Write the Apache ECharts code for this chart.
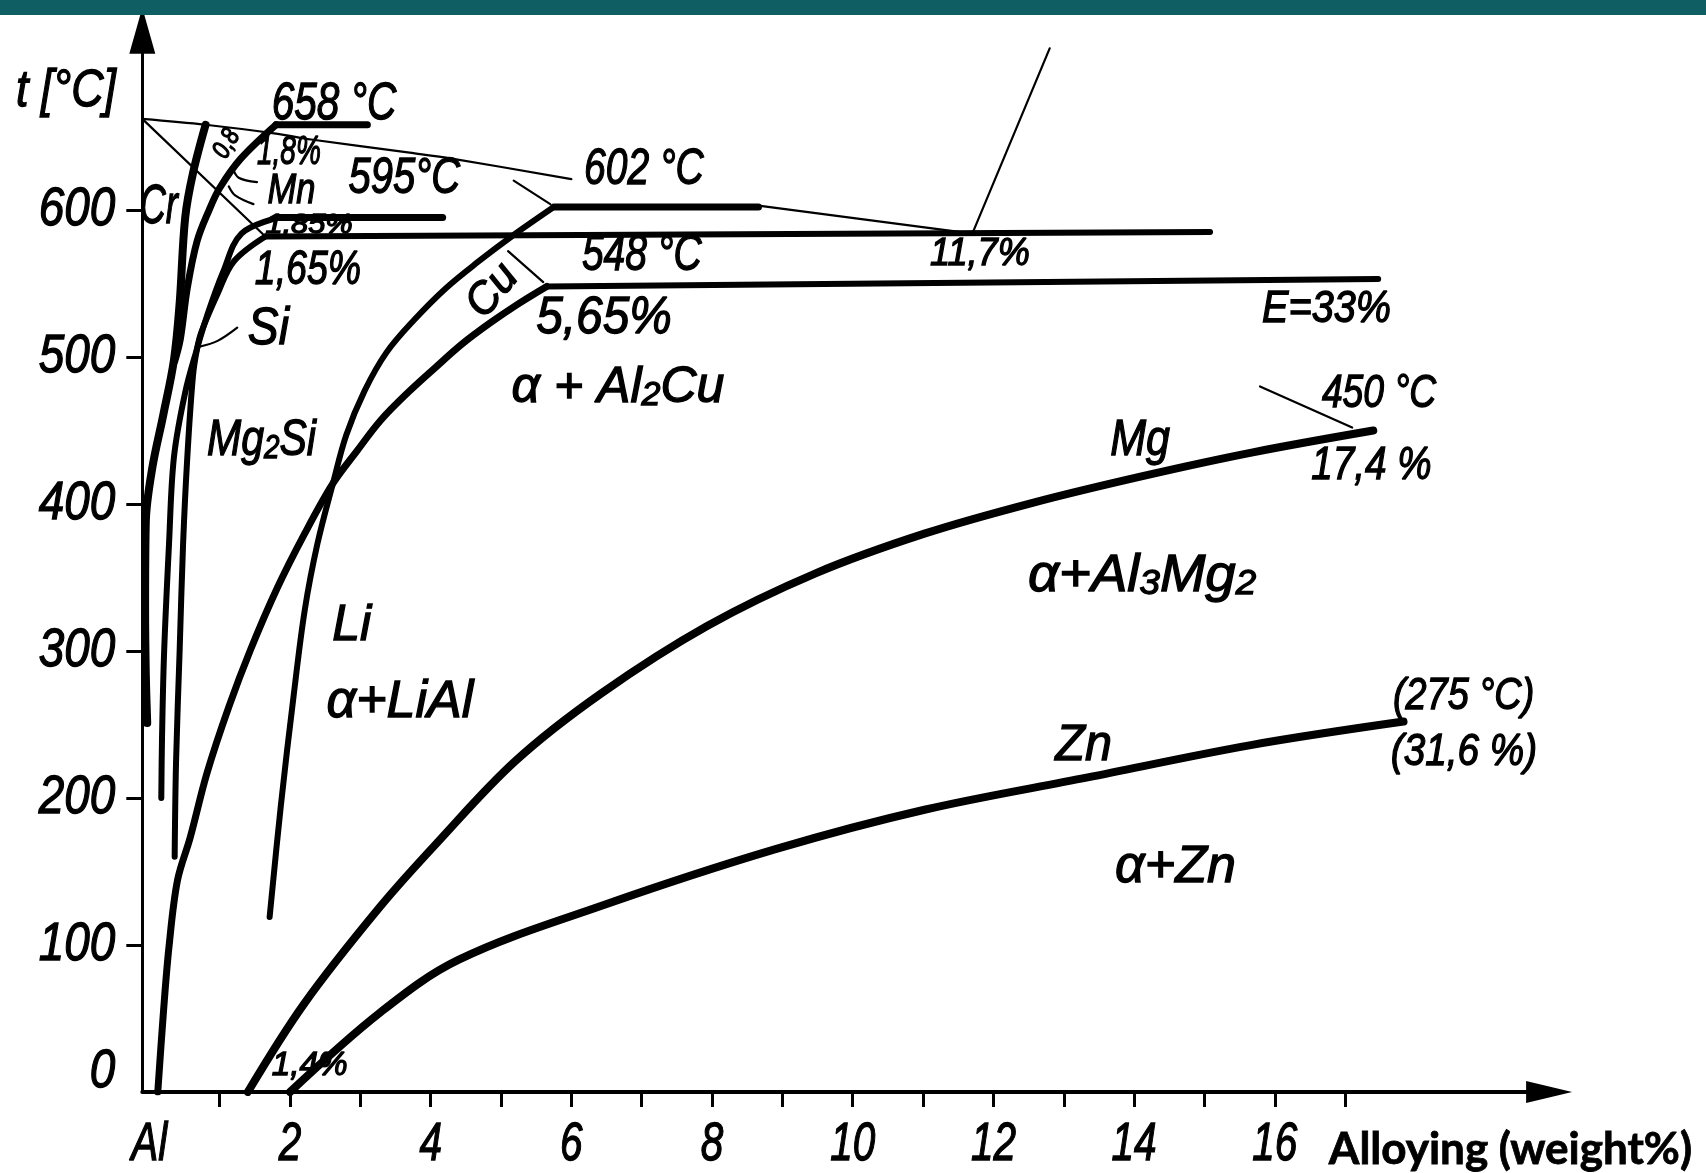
<!DOCTYPE html>
<html>
<head>
<meta charset="utf-8">
<title>Solid solubility of alloying elements in aluminium</title>
<script src="https://cdn.jsdelivr.net/npm/echarts@6/dist/echarts.min.js"></script>
<style>
  html, body { margin: 0; padding: 0; background: #ffffff; }
  #chart { width: 1706px; height: 1173px; }
</style>
</head>
<body>
<div id="chart"></div>
<script>
// ---- axis ticks -----------------------------------------------------------
const tempTickValues = [100, 200, 300, 400, 500, 600];
const tempLabelValues = [0, 100, 200, 300, 400, 500, 600];
const pctTickValues = [1, 2, 3, 4, 5, 6, 7, 8, 9, 10, 11, 12, 13, 14, 15, 16, 17];
const pctLabelValues = [0, 2, 4, 6, 8, 10, 12, 14, 16];
const pctLabelText = ['Al', '2', '4', '6', '8', '10', '12', '14', '16'];

// ---- solvus curves, [wt% alloying element, °C] ----------------------------
const crSolvus = [[0.8, 658], [0.62, 625], [0.51, 595], [0.43, 536], [0.35, 498], [0.2, 461],
  [0.04, 424], [-0.05, 388], [-0.06, 329], [-0.05, 284], [-0.03, 251]];
const mnSolvus = [[1.8, 658], [1.3, 635], [1.0, 615], [0.85, 600], [0.68, 579], [0.54, 547],
  [0.44, 512], [0.36, 497]];
const mg2siSolvus = [[1.85, 595], [1.31, 584], [1.05, 558], [0.82, 528], [0.68, 506], [0.51, 476],
  [0.35, 432], [0.28, 373], [0.21, 299], [0.18, 240], [0.17, 200]];
const siSolvus = [[1.65, 582], [1.2, 565], [0.97, 543], [0.74, 517], [0.68, 506], [0.62, 487],
  [0.54, 432], [0.48, 373], [0.43, 299], [0.38, 225], [0.36, 160]];
const cuSolvus = [[5.65, 548], [5.24, 536], [4.84, 523], [4.45, 509], [4.07, 493], [3.68, 476],
  [3.29, 457], [2.95, 436], [2.61, 414], [2.21, 380], [1.82, 343], [1.44, 301], [1.13, 262],
  [0.82, 217], [0.58, 173], [0.40, 144], [0.28, 99], [0.20, 54], [0.12, 0]];
const liSolvus = [[5.75, 602], [5.15, 582], [4.68, 565], [4.22, 547], [3.76, 525], [3.37, 503],
  [3.06, 477], [2.80, 447], [2.61, 414], [2.39, 373], [2.21, 328], [2.05, 269], [1.87, 195], [1.71, 119]];
const mgSolvus = [[1.4, 0], [2.2, 60], [3.28, 126], [4.1, 170], [5.2, 225], [6.42, 271],
  [7.93, 317], [9.48, 353], [11.03, 380], [12.57, 401], [14.12, 419], [15.67, 435], [17.4, 450]];
const znSolvus = [[2.0, 0], [3.28, 54], [4.4, 90], [6.45, 127], [8.89, 165], [11.02, 192],
  [13.34, 214], [15.66, 236], [17.83, 252]];

// ---- eutectic / peritectic isotherms ----------------------------------------
const mnIsotherm = [[1.8, 658], [3.1, 658]];
const mg2siIsotherm = [[1.85, 595], [4.17, 595]];
const siIsotherm = [[1.65, 582], [15.08, 585]];
const liIsotherm = [[5.75, 602], [8.66, 602]];
const cuIsotherm = [[5.65, 548], [17.47, 553]];

// ---- liquidus / solidus and leader strokes ----------------------------------
const liquidusA = [[-0.1, 662], [0.8, 658], [1.8, 652], [2.3, 648], [3.7, 639], [4.3, 635], [6.0, 621]];
const liquidusB = [[8.66, 603], [11.7, 584]];
const siLiquidus = [[11.7, 584], [12.8, 710]];
const siSolidus = [[-0.1, 662], [1.65, 582]];
const mnSolidus = [[1.19, 628], [1.27, 622], [1.53, 619]];
const mg2siSolidus = [[1.13, 616], [1.22, 610], [1.48, 604]];
const liLiquidus = [[5.18, 620], [5.70, 604]];
const cuLiquidus = [[5.10, 572], [5.60, 551]];
const mgLiquidus = [[15.79, 480], [17.1, 452]];
const siLeader = [[1.25, 520], [0.97, 511], [0.71, 507]];

// ---- lettering inside the diagram (anchored at [wt%, °C]) --------------------
const notes = [
  { text: '658 °C', x: 1.74, t: 672, size: 52, scale: 0.78 },
  { text: '1,8%', x: 1.53, t: 639, size: 40, scale: 0.7 },
  { text: '0,8', x: 1.1, t: 645, size: 26, scale: 0.8, rotate: 60, align: 'center' },
  { text: 'Cr', x: -0.14, t: 602, size: 56, scale: 0.65 },
  { text: 'Mn', x: 1.68, t: 613, size: 42, scale: 0.82 },
  { text: '595°C', x: 2.83, t: 621, size: 50, scale: 0.8 },
  { text: '1,85%', x: 1.65, t: 590, size: 28, scale: 1.1 },
  { text: '1,65%', x: 1.50, t: 559, size: 48, scale: 0.78 },
  { text: 'Si', x: 1.40, t: 519, size: 52, scale: 0.89 },
  { text: '602 °C', x: 6.18, t: 627, size: 50, scale: 0.78 },
  { text: '548 °C', x: 6.15, t: 569, size: 50, scale: 0.78 },
  { text: '5,65%', x: 5.50, t: 526, size: 52, scale: 0.92 },
  { text: 'Cu', x: 4.88, t: 545, size: 44, scale: 1.0, rotate: 50, align: 'center' },
  { text: '{n|α + Al}{s|2}{n|Cu}', x: 5.15, t: 479, size: 50, scale: 1.0 },
  { text: '11,7%', x: 11.10, t: 570, size: 38, scale: 0.95 },
  { text: 'E=33%', x: 15.82, t: 532, size: 44, scale: 0.9 },
  { text: '450 °C', x: 16.67, t: 475, size: 46, scale: 0.81 },
  { text: '17,4 %', x: 16.52, t: 426, size: 46, scale: 0.84 },
  { text: 'Mg', x: 13.66, t: 443, size: 50, scale: 0.86 },
  { text: '{n|α+Al}{s|3}{n|Mg}{s|2}', x: 12.49, t: 351, size: 52, scale: 1.05 },
  { text: '(275 °C)', x: 17.68, t: 269, size: 44, scale: 0.86 },
  { text: '(31,6 %)', x: 17.65, t: 231, size: 44, scale: 0.88 },
  { text: 'Zn', x: 12.88, t: 235, size: 50, scale: 0.97 },
  { text: 'α+Zn', x: 13.73, t: 153, size: 52, scale: 1.0 },
  { text: 'Li', x: 2.60, t: 317, size: 50, scale: 1.0 },
  { text: 'α+LiAl', x: 2.52, t: 265, size: 52, scale: 1.0 },
  { text: '{n|Mg}{s|2}{n|Si}', x: 0.82, t: 443, size: 50, scale: 0.82 },
  { text: '1,4%', x: 1.74, t: 18, size: 34, scale: 0.98 }
];

const LETTERING = "'Liberation Sans', Arial, sans-serif";
const INK = '#000000';
const PEN = 1.3;   // outline added to the glyphs for a drawing-pen weight

function stroke(data, width, smooth) {
  return {
    type: 'line',
    data: data,
    symbol: 'none',
    showSymbol: false,
    smooth: smooth === undefined ? 0.35 : smooth,
    silent: true,
    animation: false,
    lineStyle: { color: INK, width: width, cap: 'round', join: 'round' },
    z: 3
  };
}

// narrow, slanted technical lettering: italic glyphs compressed horizontally
function lettering(text, px, py, size, scale, opts) {
  opts = opts || {};
  const sub = Math.round(size * 0.68);
  const align = opts.align || 'left';
  const vAlign = opts.verticalAlign || 'middle';
  return {
    type: 'text',
    x: px,
    y: py,
    rotation: (opts.rotate || 0) * Math.PI / 180,
    scaleX: scale,
    scaleY: 1,
    silent: true,
    z: 20,
    style: {
      text: text,
      x: 0,
      y: 0,
      fill: INK,
      stroke: INK,
      lineWidth: PEN,
      fontFamily: LETTERING,
      fontStyle: 'italic',
      fontSize: size,
      align: align,
      verticalAlign: vAlign,
      textAlign: align,
      textVerticalAlign: vAlign,
      rich: {
        n: { fontFamily: LETTERING, fontStyle: 'italic', fontSize: size, lineHeight: size, verticalAlign: 'bottom',
             fill: INK, stroke: INK, lineWidth: PEN },
        s: { fontFamily: LETTERING, fontStyle: 'italic', fontSize: sub, lineHeight: Math.round(sub * 0.4), verticalAlign: 'bottom',
             fill: INK, stroke: INK, lineWidth: PEN }
      }
    }
  };
}

const chart = echarts.init(document.getElementById('chart'), null, { renderer: 'canvas', width: 1706, height: 1173 });

chart.setOption({
  backgroundColor: '#ffffff',
  animation: false,
  grid: { left: 142.3, width: 1406.8, top: 30.7, height: 1061.3, containLabel: false },
  xAxis: {
    type: 'value',
    min: -0.1,
    max: 19.9,
    splitLine: { show: false },
    axisLine: {
      onZero: false,
      lineStyle: { color: INK, width: 4 },
      symbol: ['none', 'triangle'],
      symbolSize: [22, 46]
    },
    axisTick: { show: true, customValues: pctTickValues, length: 15, lineStyle: { color: INK, width: 3 } },
    axisLabel: { show: false }
  },
  yAxis: {
    type: 'value',
    min: 0,
    max: 722,
    splitLine: { show: false },
    axisLine: {
      onZero: false,
      lineStyle: { color: INK, width: 3 },
      symbol: ['none', 'triangle'],
      symbolSize: [26, 46]
    },
    axisTick: { show: true, customValues: tempTickValues, length: 16, lineStyle: { color: INK, width: 3 } },
    axisLabel: { show: false }
  },
  series: [
    // solvus curves
    stroke(crSolvus, 8),
    stroke(mnSolvus, 7),
    stroke(mg2siSolvus, 6),
    stroke(siSolvus, 6),
    stroke(cuSolvus, 7),
    stroke(liSolvus, 6),
    stroke(mgSolvus, 8),
    stroke(znSolvus, 8),
    // isotherms
    stroke(mnIsotherm, 7, false),
    stroke(mg2siIsotherm, 7, false),
    stroke(siIsotherm, 6, false),
    stroke(liIsotherm, 7, false),
    stroke(cuIsotherm, 6, false),
    // liquidus, solidus and leaders
    stroke(liquidusA, 2.2),
    stroke(liquidusB, 2.2, false),
    stroke(siLiquidus, 2.2, false),
    stroke(siSolidus, 2.2, false),
    stroke(mnSolidus, 2.2),
    stroke(mg2siSolidus, 2.2),
    stroke(liLiquidus, 2.2, false),
    stroke(cuLiquidus, 2.2, false),
    stroke(mgLiquidus, 2.2, false),
    stroke(siLeader, 2.2)
  ]
});

// ---- lettering placed through the chart's own scales -------------------------
function toPx(x, t) { return chart.convertToPixel({ gridIndex: 0 }, [x, t]); }

const graphics = [
  { type: 'rect', x: 0, y: 0, shape: { x: 0, y: 0, width: 1706, height: 15 }, style: { fill: '#0e5e64' }, silent: true, z: 30 },
  { type: 'text', x: 1692, y: 1150, silent: true, z: 20,
    style: { text: 'Alloying (weight%)', x: 0, y: 0, fill: INK, stroke: INK, lineWidth: 0.8,
             fontFamily: "'Lato', 'Open Sans', sans-serif", fontWeight: 'bold', fontSize: 44,
             align: 'right', verticalAlign: 'middle', textAlign: 'right', textVerticalAlign: 'middle' } }
];

// axis title
const yTop = toPx(-0.1, 722);
graphics.push(lettering('t [°C]', 16, yTop[1] + 61, 52, 0.86));

// temperature tick labels, right-aligned left of the axis
const axisLeft = toPx(-0.1, 0)[0];
tempLabelValues.forEach(function (v) {
  const p = toPx(-0.1, v);
  const lift = v === 0 ? -20 : 0;
  graphics.push(lettering(String(v), axisLeft - 27, p[1] + lift, 54, 0.85, { align: 'right' }));
});

// composition tick labels below the axis
pctLabelValues.forEach(function (v, i) {
  const p = toPx(v, 0);
  graphics.push(lettering(pctLabelText[i], p[0], p[1] + 53, 54, 0.75, { align: 'center' }));
});

// diagram notes
notes.forEach(function (n) {
  const p = toPx(n.x, n.t);
  graphics.push(lettering(n.text, p[0], p[1], n.size, n.scale, { rotate: n.rotate, align: n.align }));
});

chart.setOption({ graphic: graphics });
</script>
</body>
</html>
